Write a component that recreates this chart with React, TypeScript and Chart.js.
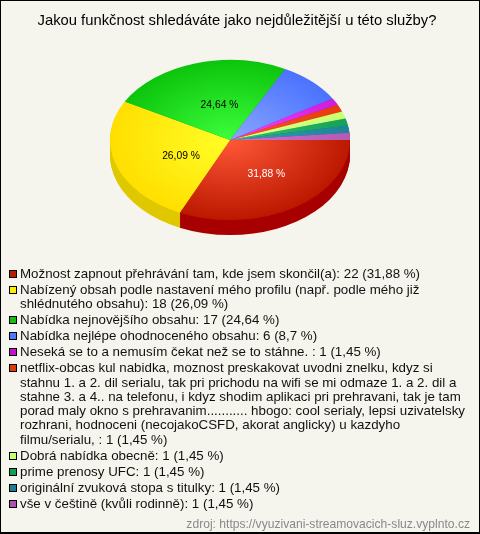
import React, { useEffect, useRef } from "react";
import { Chart, registerables } from "chart.js";

Chart.register(...registerables);

const TITLE = "Jakou funkčnost shledáváte jako nejdůležitější u této služby?";
const SOURCE = "zdroj: https://vyuzivani-streamovacich-sluz.vyplnto.cz";
const categories = [
  "Možnost zapnout přehrávání tam, kde jsem skončil(a)",
  "Nabízený obsah podle nastavení mého profilu (např. podle mého již\nshlédnutého obsahu)",
  "Nabídka nejnovějšího obsahu",
  "Nabídka nejlépe ohodnoceného obsahu",
  "Neseká se to a nemusím čekat než se to stáhne. ",
  "netflix-obcas kul nabidka, moznost preskakovat uvodni znelku, kdyz si\nstahnu 1. a 2. dil serialu, tak pri prichodu na wifi se mi odmaze 1. a 2. dil a\nstahne 3. a 4.. na telefonu, i kdyz shodim aplikaci pri prehravani, tak je tam\nporad maly okno s prehravanim........... hbogo: cool serialy, lepsi uzivatelsky\nrozhrani, hodnoceni (necojakoCSFD, akorat anglicky) u kazdyho\nfilmu/serialu, ",
  "Dobrá nabídka obecně",
  "prime prenosy UFC",
  "originální zvuková stopa s titulky",
  "vše v češtině (kvůli rodinně)",
];
const counts = [22, 18, 17, 6, 1, 1, 1, 1, 1, 1];
const percents = ["31,88", "26,09", "24,64", "8,7", "1,45", "1,45", "1,45", "1,45", "1,45", "1,45"];
const edgeColors = ["#bb1800", "#ffdf00", "#0cc40c", "#4a72ff", "#cc1ddd", "#e83c0c", "#c8ff70", "#12a35a", "#1f8399", "#b45ab5"];
const centerColors = ["#ff5838", "#ffff28", "#3cff3c", "#8aa6ff", "#ff40ff", "#ff5020", "#e0ff90", "#30c070", "#30a0b0", "#d070d0"];
const sideColors = ["#a80000", "#e0c800", "#0a960a", "#3050c0", "#9010a0", "#b02a08", "#a0cc50", "#0c7a42", "#156070", "#884088"];
const swatchColors = ["#b81c00", "#ffee00", "#0fc00f", "#4d77ff", "#c010d0", "#e03c08", "#c8ff70", "#0f9f55", "#1a7d95", "#b050b0"];
const labelColors = ["#ffffff", "#000000", "#000000"];
const labelNudges = [[4, 0], [8, 4], [7, 3]];

const SQUASH = 2 / 3;
const DEPTH = 15;

const pie3d = {
  id: "pie3d",
  beforeDatasetsDraw(chart: any) {
    const ctx = chart.ctx;
    ctx.save();
    ctx.scale(1, SQUASH);
    const arcs = chart.getDatasetMeta(0).data;
    for (let d = DEPTH; d >= 1; d--) {
      arcs.forEach((arc: any, i: number) => {
        const { x, y, startAngle, endAngle, outerRadius } = arc.getProps(["x", "y", "startAngle", "endAngle", "outerRadius"]);
        ctx.beginPath();
        ctx.moveTo(x, y + d / SQUASH);
        ctx.arc(x, y + d / SQUASH, outerRadius, startAngle, endAngle);
        ctx.closePath();
        ctx.fillStyle = sideColors[i];
        ctx.fill();
      });
    }
  },
  afterDatasetsDraw(chart: any) {
    const ctx = chart.ctx;
    ctx.restore();
    ctx.save();
    ctx.font = "10.3px 'Liberation Sans'";
    ctx.textAlign = "center";
    ctx.textBaseline = "middle";
    labelColors.forEach((color, i) => {
      const pos = chart.getDatasetMeta(0).data[i].tooltipPosition();
      ctx.fillStyle = color;
      ctx.fillText(`${percents[i]} %`, pos.x + labelNudges[i][0], pos.y * SQUASH + labelNudges[i][1]);
    });
    ctx.restore();
  },
};

export default function App() {
  const ref = useRef<HTMLCanvasElement>(null);
  useEffect(() => {
    const chart = new Chart(ref.current!, {
      type: "pie",
      data: {
        labels: categories,
        datasets: [
          {
            data: counts,
            borderWidth: 0,
            clip: false,
            backgroundColor: (c: any) => {
              const area = c.chart.chartArea;
              if (!area) return edgeColors[c.dataIndex];
              const cx = (area.left + area.right) / 2;
              const cy = (area.top + area.bottom) / 2;
              const r = (area.right - area.left) / 2;
              const g = c.chart.ctx.createRadialGradient(cx, cy, 0, cx, cy, r);
              g.addColorStop(0, centerColors[c.dataIndex]);
              g.addColorStop(1, edgeColors[c.dataIndex]);
              return g;
            },
          } as any,
        ],
      },
      options: {
        responsive: false,
        animation: false,
        rotation: 90,
        layout: { padding: { left: 110, right: 130, top: 90, bottom: 204 } },
        plugins: {
          legend: { display: false },
          tooltip: { enabled: false },
          title: { display: false },
        },
      },
      plugins: [pie3d],
    });
    return () => chart.destroy();
  }, []);

  return (
    <div style={{ position: "absolute", left: 0, top: 0, width: 480, height: 534, boxSizing: "border-box", background: "#f5f5ee", fontFamily: "'Liberation Sans'" }}>
      <canvas ref={ref} width={480} height={534} style={{ position: "absolute", left: 0, top: 0, display: "block" }} />
      <div style={{ position: "absolute", inset: 0, border: "1px solid #000", borderWidth: "1px 1px 2px 1px", boxSizing: "border-box", pointerEvents: "none" }} />
      <div style={{ position: "absolute", left: 0, right: 6, top: 12, textAlign: "center", fontSize: 14.8, lineHeight: "16px", color: "#000" }}>{TITLE}</div>
      <div style={{ position: "absolute", left: 9, top: 267, width: 465, fontSize: 13.33, lineHeight: "14.3px", color: "#111" }}>
        {categories.map((c, i) => (
          <div key={i} style={{ position: "relative", paddingLeft: 11, marginBottom: 1.7, whiteSpace: "pre" }}>
            <span style={{ position: "absolute", left: 0, top: 3, width: 6, height: 6, border: "1px solid #000", background: swatchColors[i] }} />
            {`${c}: ${counts[i]} (${percents[i]} %)`}
          </div>
        ))}
      </div>
      <div style={{ position: "absolute", right: 10, top: 517, fontSize: 12.1, lineHeight: "14px", color: "#888" }}>{SOURCE}</div>
    </div>
  );
}
